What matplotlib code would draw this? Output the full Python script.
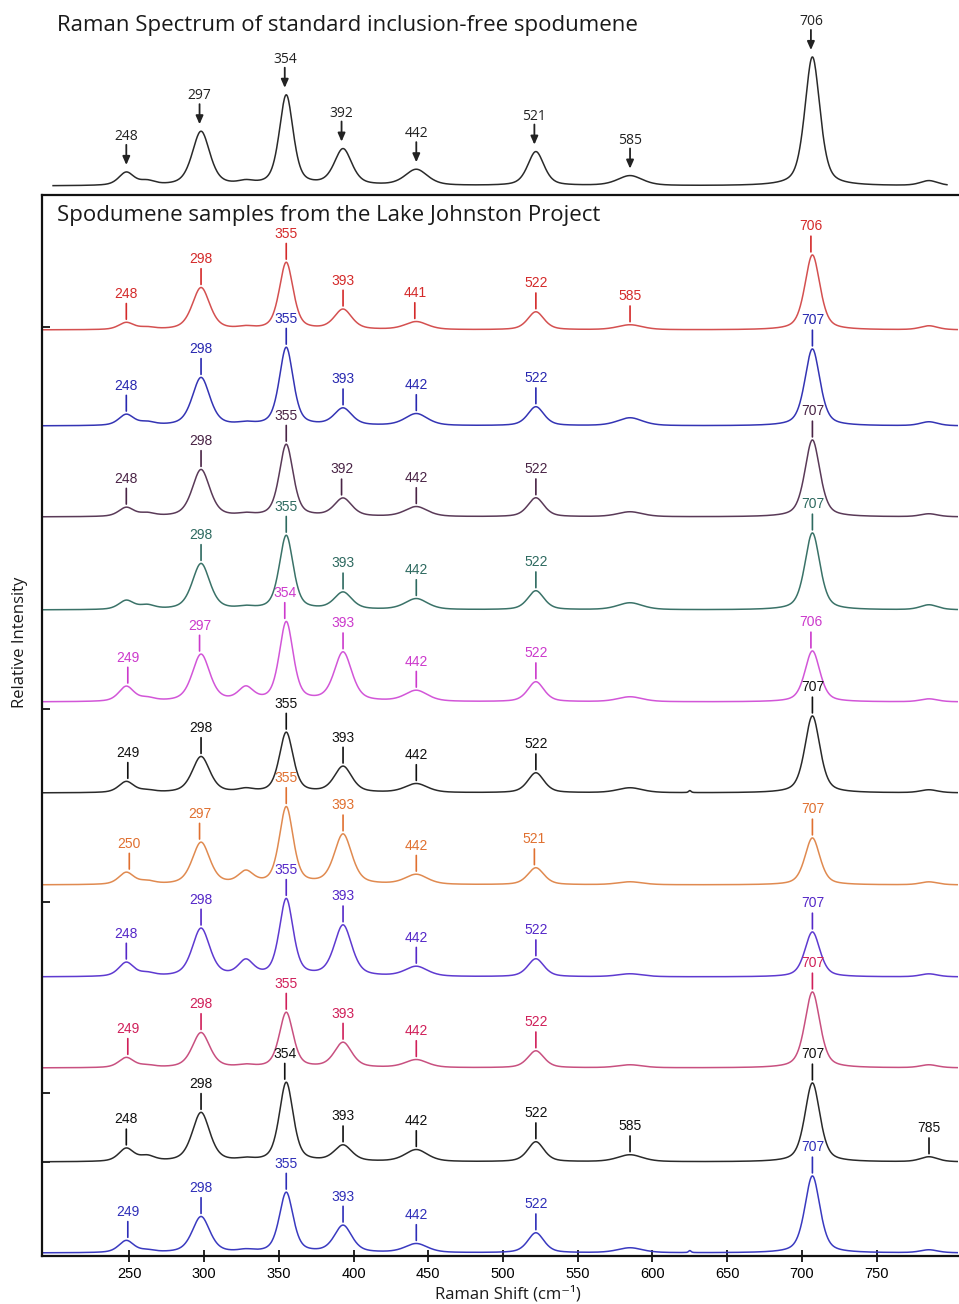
import numpy as np
import matplotlib
matplotlib.use("Agg")
import matplotlib.pyplot as plt

# ---------------- data ----------------
band_centers = [248, 262, 298, 328, 355, 393, 442, 522, 585, 625, 707, 785]
band_fwhm = [12, 12, 14, 12, 11, 14, 18, 13, 20, 2, 12, 14]

# standard inclusion-free spodumene (relative intensity)
standard_heights = [13, 4, 54, 3, 90, 36, 16, 34, 10, 0, 129, 5]
standard_labels = [248, 297, 354, 392, 442, 521, 585, 706]

# Lake Johnston samples, top to bottom
sample_offsets = [926, 830, 739, 646, 554, 463, 371, 279, 188, 94, 3]
sample_heights = [
    [7, 2, 42, 2, 67, 20, 8, 18, 5, 0, 75, 4],
    [11, 3, 48, 2, 78, 17, 12, 19, 8, 0, 77, 4],
    [9, 3, 47, 2, 72, 18, 10, 19, 5, 0, 77, 3],
    [9, 4, 46, 2, 74, 17, 11, 19, 7, 0, 77, 5],
    [15, 3, 47, 13, 79, 49, 11, 20, 5, 0, 51, 3],
    [11, 2, 36, 3, 60, 26, 9, 20, 5, 2, 77, 3],
    [12, 3, 42, 12, 77, 50, 10, 17, 3, 0, 47, 3],
    [14, 3, 48, 15, 77, 51, 10, 18, 3, 0, 45, 3],
    [10, 2, 35, 2, 55, 25, 8, 17, 3, 0, 76, 3],
    [13, 5, 49, 2, 79, 16, 12, 20, 7, 0, 79, 5],
    [12, 2, 36, 2, 60, 27, 9, 20, 5, 2, 77, 3],
]
sample_labels = [
    [248, 298, 355, 393, 441, 522, 585, 706],
    [248, 298, 355, 393, 442, 522, 707],
    [248, 298, 355, 392, 442, 522, 707],
    [298, 355, 393, 442, 522, 707],
    [249, 297, 354, 393, 442, 522, 706],
    [249, 298, 355, 393, 442, 522, 707],
    [250, 297, 355, 393, 442, 521, 707],
    [248, 298, 355, 393, 442, 522, 707],
    [249, 298, 355, 393, 442, 522, 707],
    [248, 298, 354, 393, 442, 522, 585, 707, 785],
    [249, 298, 355, 393, 442, 522, 707],
]
line_colors = ["#d45050", "#3434b4", "#5a3a58", "#3a7268", "#d256d8", "#2a2a2a",
               "#e08a50", "#5e3ad0", "#c85080", "#2a2a2a", "#3a3ac0"]
label_colors = ["#d42a2a", "#2828b0", "#4a2446", "#2e6a60", "#cc3acc", "#111111",
                "#e07030", "#5528c8", "#d0205a", "#111111", "#2e2eb8"]

x_ticks = [250, 300, 350, 400, 450, 500, 550, 600, 650, 700, 750]


def spectrum(x, heights):
    y = np.zeros_like(x)
    for c, h, w in zip(band_centers, heights, band_fwhm):
        g = (x - c) / (w / 2.0)
        y += h * (0.5 / (1 + g ** 2) + 0.5 * np.exp(-np.log(2) * g ** 2))
    return y


def peak_top(x, y, lx):
    m = (x >= lx - 3) & (x <= lx + 3)
    return y[m].max()


# ---------------- figure ----------------
W, H = 959, 1304
fig = plt.figure(figsize=(W / 100, H / 100), dpi=100)

xmin, xmax = 191.6, 804.4
ax_left = 42 / W
ax_w = (958 - 42) / W

# top (standard) panel, no frame
ax_top = fig.add_axes([ax_left, (H - 195) / H, ax_w, 195 / H])
ax_top.set_xlim(xmin, xmax)
ax_top.set_ylim(0, 195)
ax_top.axis("off")
xs = np.linspace(199, 797, 1500)
ys = spectrum(xs, standard_heights) + 9
ax_top.plot(xs, ys, color="#2a2a2a", lw=1.1)
for lab in standard_labels:
    yt = peak_top(xs, ys, lab)
    ax_top.annotate("", xy=(lab, yt), xytext=(0, 19.5), textcoords="offset points",
                    arrowprops=dict(arrowstyle="-|>,head_length=0.5,head_width=0.22",
                                    color="#222222", lw=1.3, shrinkA=0, shrinkB=5,
                                    mutation_scale=10))
    ax_top.annotate(str(lab), xy=(lab, yt), xytext=(0, 25.5), textcoords="offset points",
                    ha="center", va="center", fontsize=10, family="Open Sans",
                    color="#222222")

fig.text(57 / W, 1 - 25 / H, "Raman Spectrum of standard inclusion-free spodumene",
         fontsize=16, family="Open Sans", ha="left", va="center", color="#1a1a1a")

# bottom (samples) panel
ax = fig.add_axes([ax_left, (H - 1256) / H, ax_w, (1256 - 195) / H])
ax.set_xlim(xmin, xmax)
ax.set_ylim(0, 1256 - 195)
xb = np.linspace(xmin, xmax, 2000)
for off, hts, labs, lc, tc in zip(sample_offsets, sample_heights, sample_labels,
                                  line_colors, label_colors):
    yb = spectrum(xb, hts) + off
    ax.plot(xb, yb, color=lc, lw=1.1)
    for lab in labs:
        yt = peak_top(xb, yb, lab)
        ax.annotate("", xy=(lab, yt), xytext=(0, 13.5), textcoords="offset points",
                    arrowprops=dict(arrowstyle="-", color=tc, lw=1.2,
                                    shrinkA=0, shrinkB=2.2))
        ax.annotate(str(lab), xy=(lab, yt), xytext=(0, 20.5), textcoords="offset points",
                    ha="center", va="center", fontsize=10, family="Liberation Sans",
                    color=tc)

for side in ["left", "bottom", "top"]:
    ax.spines[side].set_linewidth(1.6)
    ax.spines[side].set_color("#111111")
ax.spines["right"].set_visible(False)

ax.set_xticks(x_ticks)
ax.set_xticklabels([str(t) for t in x_ticks], fontsize=10.5, family="Liberation Sans")
ax.tick_params(axis="x", direction="inout", length=8, width=1.2, pad=4)
ax.set_yticks([929, 547, 354, 163, 94])
ax.set_yticklabels([])
ax.tick_params(axis="y", direction="in", length=6, width=1.2)

fig.text(57 / W, 1 - 215 / H, "Spodumene samples from the Lake Johnston Project",
         fontsize=16, family="Open Sans", ha="left", va="center", color="#1a1a1a")
fig.text(508 / W, 1 - 1294 / H, "Raman Shift (cm\u207b\u00b9)", fontsize=12,
         family=["Open Sans", "DejaVu Sans"], ha="center", va="center", color="#1a1a1a")
fig.text(20 / W, 1 - 642 / H, "Relative Intensity", fontsize=12, rotation=90,
         family="Open Sans", ha="center", va="center", color="#1a1a1a")

fig.savefig("out.png", dpi=100)
